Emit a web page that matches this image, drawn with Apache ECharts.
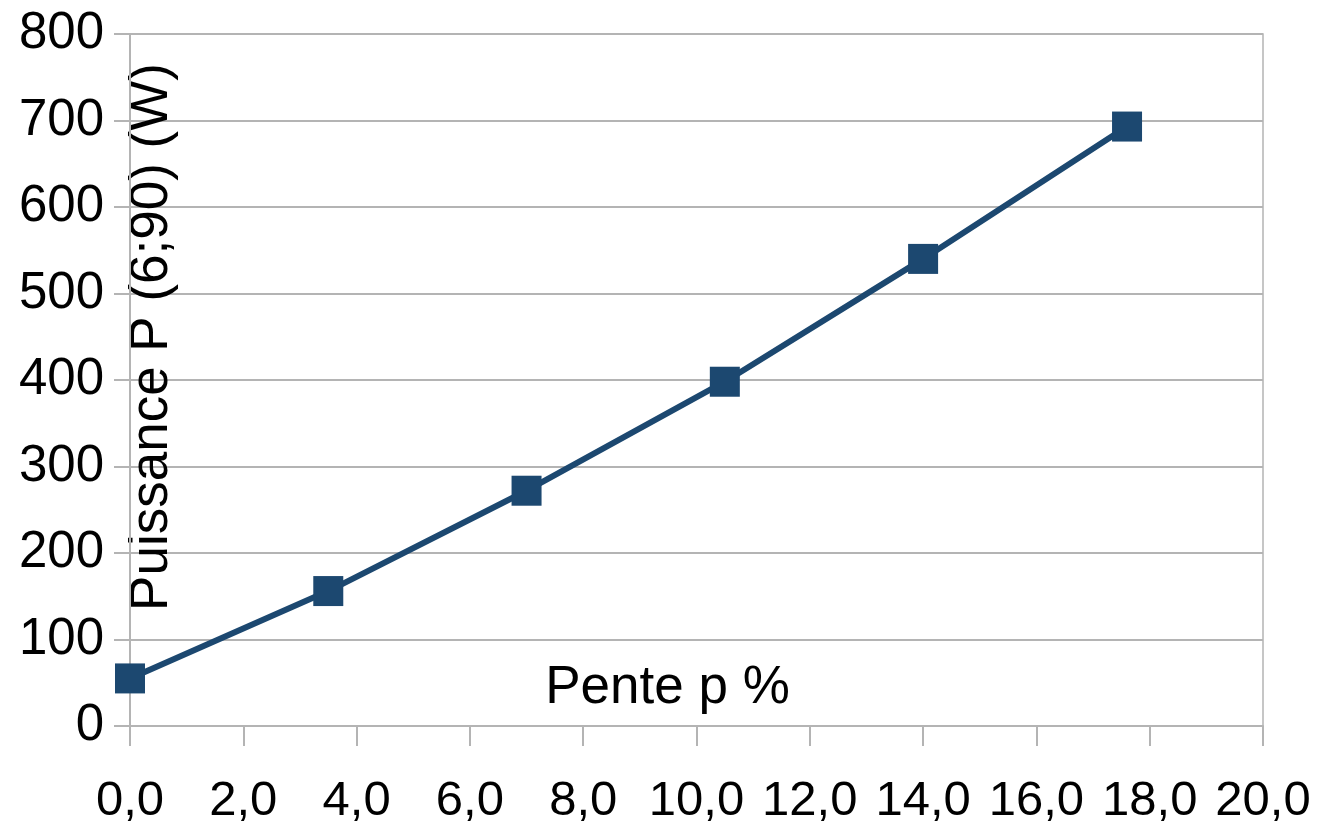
<!DOCTYPE html>
<html><head><meta charset="utf-8">
<script src="https://cdn.jsdelivr.net/npm/echarts@6/dist/echarts.min.js"></script>
<style>html,body{margin:0;padding:0;background:#fff}#c{width:1339px;height:822px}</style>
</head><body><div id="c"></div>
<script>
const pente = [0, 3.5, 7, 10.5, 14, 17.6];
const puissance = [55, 156, 272, 398, 540, 693];
const xTitle = 'Pente p %';
const yTitle = 'Puissance P (6;90) (W)';

const chart = echarts.init(document.getElementById('c'), null, {renderer: 'canvas'});
const gray = '#b4b4b4';
const font = 'Liberation Sans, Arial, sans-serif';
chart.setOption({
  animation: false,
  backgroundColor: '#ffffff',
  grid: {left: 130, right: 76, top: 34, bottom: 96, containLabel: false, outerBoundsMode: 'none',
    show: true, borderColor: gray, borderWidth: 1.5, backgroundColor: 'transparent'},
  xAxis: {
    type: 'value', min: 0, max: 20, interval: 2,
    name: xTitle, nameLocation: 'middle', nameGap: -38, nameMoveOverlap: false,
    nameTextStyle: {fontSize: 53, color: '#000', fontFamily: font, verticalAlign: 'middle', padding: [0, 58, 0, 0]},
    axisLine: {show: true, lineStyle: {color: gray, width: 2}},
    axisTick: {show: true, length: 20, lineStyle: {color: gray, width: 2}},
    splitLine: {show: false},
    axisLabel: {fontSize: 49, color: '#000', fontFamily: font, margin: 51,
      formatter: v => v.toFixed(1).replace('.', ',')}
  },
  yAxis: {
    type: 'value', min: 0, max: 800, interval: 100,
    name: yTitle, nameLocation: 'middle', nameGap: -22, nameRotate: 90, nameMoveOverlap: false,
    nameTextStyle: {fontSize: 53, color: '#000', fontFamily: font, verticalAlign: 'middle', padding: [0, 0, 0, 86]},
    axisLine: {show: true, lineStyle: {color: gray, width: 2}},
    axisTick: {show: true, length: 16, lineStyle: {color: gray, width: 2}},
    splitLine: {show: true, lineStyle: {color: gray, width: 2}},
    axisLabel: {fontSize: 51, color: '#000', fontFamily: font, margin: 26}
  },
  series: [{
    type: 'line',
    data: pente.map((x, i) => [x, puissance[i]]),
    symbol: 'rect', symbolSize: 30,
    lineStyle: {color: '#1c4870', width: 6},
    itemStyle: {color: '#1c4870'}
  }]
});
</script></body></html>
